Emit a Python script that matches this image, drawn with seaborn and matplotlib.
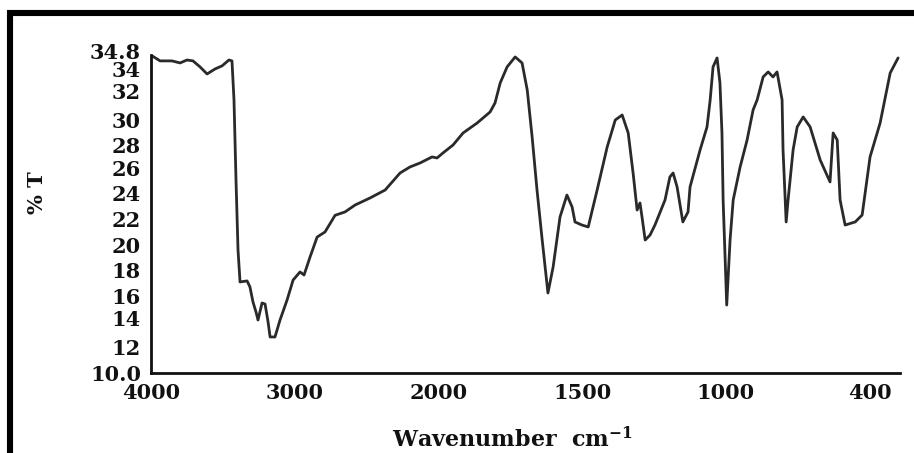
import numpy as np
import pandas as pd
import matplotlib
matplotlib.use("Agg")
import matplotlib.pyplot as plt
import seaborn as sns
from matplotlib.patches import Rectangle
from matplotlib.transforms import ScaledTranslation

# FTIR spectrum: wavenumber (cm-1) and transmittance (%T)
wavenumber = [4000, 3935, 3852, 3796, 3748, 3706, 3657, 3608, 3553, 3504,
              3456, 3435, 3421, 3407, 3393, 3379, 3330, 3310, 3289, 3268,
              3254, 3226, 3205, 3184, 3170, 3136, 3101, 3052, 3010, 2962,
              2934, 2892, 2843, 2788, 2718, 2649, 2579, 2475, 2370, 2266,
              2197, 2127, 2044, 2009, 1984, 1949, 1914, 1865, 1820, 1803,
              1785, 1761, 1733, 1709, 1691, 1674, 1657, 1639, 1619, 1601,
              1577, 1553, 1535, 1525, 1501, 1479, 1448, 1413, 1385, 1361,
              1340, 1323, 1309, 1299, 1292, 1281, 1264, 1247, 1212, 1195,
              1184, 1170, 1150, 1132, 1125, 1090, 1066, 1055, 1045, 1031,
              1021, 1014, 1010, 997, 983, 970, 941, 912, 887, 870,
              845, 824, 804, 787, 766, 762, 749, 741, 720, 703,
              678, 649, 607, 566, 553, 536, 524, 503, 461, 432,
              399, 357, 315, 282]
transmittance = [34.80, 34.34, 34.34, 34.18, 34.41, 34.34, 33.87, 33.32, 33.71, 33.95,
                 34.41, 34.34, 31.30, 25.05, 19.59, 17.10, 17.18, 16.71, 15.54, 14.76,
                 14.13, 15.46, 15.38, 13.98, 12.81, 12.81, 14.13, 15.69, 17.25, 17.88,
                 17.64, 19.05, 20.60, 21.00, 22.30, 22.56, 23.10, 23.65, 24.27, 25.60,
                 26.07, 26.38, 26.85, 26.77, 27.16, 27.78, 28.72, 29.50, 30.36, 31.06,
                 32.62, 33.87, 34.65, 34.18, 32.07, 28.41, 24.27, 20.37, 16.24, 18.27,
                 22.17, 23.88, 22.95, 21.78, 21.54, 21.39, 24.27, 27.63, 29.73, 30.12,
                 28.72, 25.60, 22.71, 23.26, 22.17, 20.37, 20.76, 21.54, 23.49, 25.29,
                 25.60, 24.51, 21.78, 22.56, 24.51, 27.40, 29.19, 31.30, 33.87, 34.57,
                 32.62, 28.72, 23.49, 15.30, 20.37, 23.49, 26.07, 28.17, 30.51, 31.30,
                 33.09, 33.48, 33.09, 33.48, 31.30, 27.40, 21.78, 23.49, 27.40, 29.19,
                 29.97, 29.19, 26.61, 24.90, 28.72, 28.17, 23.49, 21.54, 21.78, 22.32,
                 26.85, 29.50, 33.40, 34.57]

x_tick_values = [4000, 3000, 2000, 1500, 1000, 400]
x_tick_labels = ["4000", "3000", "2000", "1500", "1000", "400"]
y_tick_values = [10, 12, 14, 16, 18, 20, 22, 24, 26, 28, 30, 32, 34, 34.8]
y_tick_labels = ["10.0", "12", "14", "16", "18", "20", "22", "24", "26",
                 "28", "30", "32", "34", "34.8"]

spectrum = pd.DataFrame({"wavenumber": wavenumber, "T": transmittance})

# Piecewise wavenumber axis: every labelled interval gets the same width
_W = np.array([10000, 4000, 3000, 2000, 1500, 1000, 400, -2000], dtype=float)
_P = np.array([-6, 0, 1, 2, 3, 4, 5, 9], dtype=float)


def forward(w):
    # increasing in w; the axis is then inverted through the limits
    return -np.interp(w, _W[::-1], _P[::-1])


def inverse(q):
    return np.interp(-np.asarray(q, dtype=float), _P, _W)


sns.set_style("white")
plt.rcParams["font.family"] = ["DejaVu Serif"]
plt.rcParams["font.weight"] = "bold"
plt.rcParams["mathtext.fontset"] = "dejavuserif"

fig = plt.figure(figsize=(9.14, 4.53), dpi=100)
ax = fig.add_axes([0.1649, 0.1766, 0.8198, 0.7020])
ax.set_xscale("function", functions=(forward, inverse))

sns.lineplot(data=spectrum, x="wavenumber", y="T", ax=ax, sort=False,
             estimator=None, color="#2a2a2a", linewidth=2.0)

ax.set_xlim(4000, 274)
ax.set_ylim(10, 34.8)
ax.set_xticks(x_tick_values, x_tick_labels)
ax.set_yticks(y_tick_values, y_tick_labels)
ax.minorticks_off()
ax.tick_params(direction="in", length=3, width=1, color="#888888",
               labelsize=15, pad=7, labelcolor="#111111")
for lab in ax.get_xticklabels() + ax.get_yticklabels():
    lab.set_fontweight("bold")

# nudge crowded y labels apart (pixels, positive = up)
label_nudge = {"34.8": 4, "34": -4, "30": -3, "28": -3, "14": 4}
for lab in ax.get_yticklabels():
    dy = label_nudge.get(lab.get_text(), 0)
    if dy:
        lab.set_transform(lab.get_transform() +
                          ScaledTranslation(0, dy / 100, fig.dpi_scale_trans))

ax.set_xlabel("")
ax.set_ylabel("")
for side in ("top", "right"):
    ax.spines[side].set_visible(False)
for side in ("left", "bottom"):
    ax.spines[side].set_linewidth(2.0)
    ax.spines[side].set_color("#111111")

fig.text(37 / 914, 1 - 193 / 453, "% T", rotation=90, ha="center", va="center",
         fontsize=15, fontweight="bold", color="#111111")
fig.text(513 / 914, 1 - 440 / 453, "Wavenumber  cm$^{-1}$", ha="center",
         va="center", fontsize=16, fontweight="bold", color="#111111")

# Heavy frame along the top and left edges
fig.add_artist(Rectangle((10 / 914, -0.2), 1.5, 0.2 + (453 - 13) / 453,
                         transform=fig.transFigure, fill=False,
                         edgecolor="black", linewidth=4.4))

fig.savefig("out.png", dpi=100, facecolor="white")
